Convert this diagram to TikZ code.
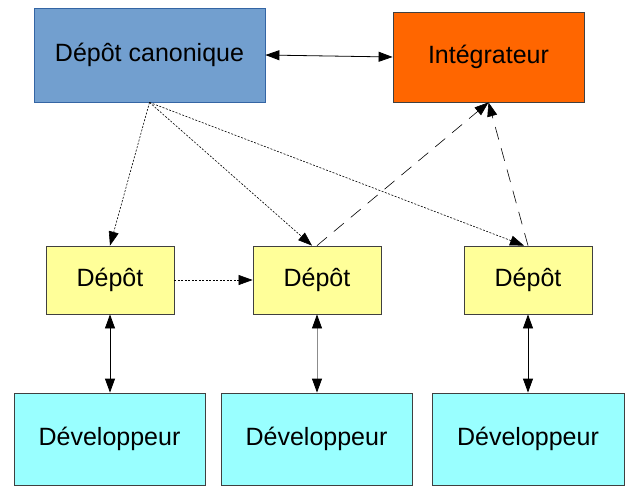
\documentclass[tikz,border=0pt]{standalone}
\usepackage{fontspec}
\setmainfont{Liberation Sans}
\usetikzlibrary{arrows.meta}
\definecolor{canonfill}{HTML}{729FCF}
\definecolor{canonline}{HTML}{3465A4}
\definecolor{integfill}{HTML}{FF6600}
\definecolor{depfill}{HTML}{FFFF99}
\definecolor{devfill}{HTML}{99FFFF}
\begin{document}
\begin{tikzpicture}[x=1pt,y=-1pt,
  box/.style={draw=black!75,line width=0.8pt,inner sep=0pt,font=\fontsize{25}{30}\selectfont},
  tip/.style={-{Triangle[length=14pt,width=10pt]}},
  bitip/.style={{Triangle[length=14pt,width=10pt,color=black]}-{Triangle[length=14pt,width=10pt,color=black]}},
  dotline/.style={line width=0.6pt,dash pattern=on 2pt off 1.5pt},
  longdash/.style={line width=0.6pt,dash pattern=on 13pt off 9pt},
  plain/.style={line width=0.8pt}]
\useasboundingbox (0,0) rectangle (640,496);
\fill[white] (0,0) rectangle (640,496);
\node[box,draw=canonline,fill=canonfill,minimum width=231pt,minimum height=94pt] (canon) at (149.5,55) {Dépôt canonique};
\node[box,fill=integfill,minimum width=191pt,minimum height=90pt] (integ) at (488.5,57) {Intégrateur};
\node[box,fill=depfill,minimum width=128pt,minimum height=68pt] (dep1) at (110,280) {Dépôt};
\node[box,fill=depfill,minimum width=128pt,minimum height=68pt] (dep2) at (317,280) {Dépôt};
\node[box,fill=depfill,minimum width=128pt,minimum height=68pt] (dep3) at (528,280) {Dépôt};
\node[box,fill=devfill,minimum width=191pt,minimum height=92pt] (dev1) at (109.5,439) {Développeur};
\node[box,fill=devfill,minimum width=191pt,minimum height=92pt] (dev2) at (316.5,439) {Développeur};
\node[box,fill=devfill,minimum width=192pt,minimum height=92pt] (dev3) at (528,439) {Développeur};
% canonique <-> integrateur
\draw[plain,bitip] (canon.east) -- (integ.west);
% dotted from canonique
\draw[dotline,tip] (canon.south) -- (dep1.north);
\draw[dotline,tip] (canon.south) -- ([xshift=-5pt]dep2.north);
\draw[dotline,tip] (canon.south) -- ([xshift=-4pt]dep3.north);
\draw[dotline,tip] (dep1.east) -- (dep2.west);
% long dashed to integrateur
\draw[longdash,tip] (dep2.north) -- (integ.south);
\draw[longdash,tip] (dep3.north) -- (integ.south);
% vertical
\draw[plain,bitip] (dep1.south) -- (dev1.north -| dep1.south);
\draw[plain,bitip,draw=black!45] (dep2.south) -- (dev2.north -| dep2.south);
\draw[plain,bitip] (dep3.south) -- (dev3.north -| dep3.south);
\end{tikzpicture}
\end{document}
